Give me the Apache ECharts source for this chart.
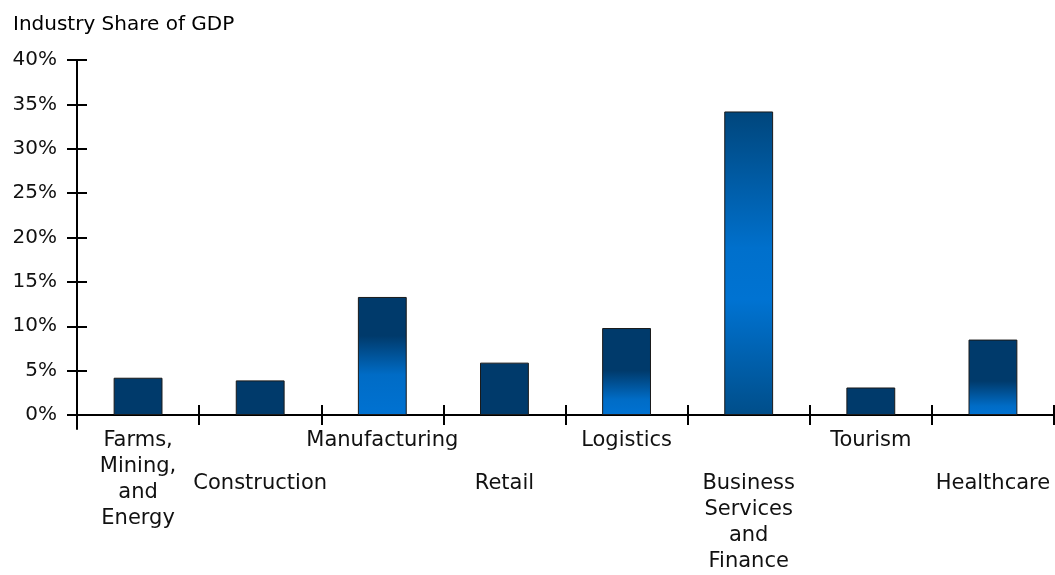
<!DOCTYPE html>
<html>
<head>
<meta charset="utf-8">
<script src="https://cdn.jsdelivr.net/npm/echarts@6/dist/echarts.min.js"></script>
<style>
html,body{margin:0;padding:0;background:#fff;}
#chart{width:1055px;height:575px;}
</style>
</head>
<body>
<div id="chart"></div>
<script>
var categories = [
  "Farms,\nMining,\nand\nEnergy",
  "Construction",
  "Manufacturing",
  "Retail",
  "Logistics",
  "Business\nServices\nand\nFinance",
  "Tourism",
  "Healthcare"
];
var shares = [4.2, 3.9, 13.3, 5.9, 9.8, 34.2, 3.1, 8.5];
var yTicks = [0, 5, 10, 15, 20, 25, 30, 35, 40];

var DARK = '#003a6b';
var BRIGHT = '#0072d2';
var FONT = 'DejaVu Sans';

function barColor(params) {
  var v = params.value;
  if (v < 7) return DARK;
  if (v > 20) {
    return new echarts.graphic.LinearGradient(0, 0, 0, 1, [
      {offset: 0, color: '#00467c'},
      {offset: 0.45, color: '#0070cc'},
      {offset: 0.62, color: '#0073d2'},
      {offset: 1, color: '#004e8a'}
    ]);
  }
  var darkEnd = Math.max(0.2, 0.55 - (v - 8.5) * 0.046);
  var brightStart = Math.min(0.95, darkEnd + 0.33);
  return new echarts.graphic.LinearGradient(0, 0, 0, 1, [
    {offset: 0, color: DARK},
    {offset: darkEnd, color: DARK},
    {offset: brightStart, color: '#006cc6'},
    {offset: 1, color: BRIGHT}
  ]);
}

var chart = echarts.init(document.getElementById('chart'));
var labelStyle = {color: '#111', fontFamily: FONT, fontSize: 21, lineHeight: 26};

chart.setOption({
  animation: false,
  backgroundColor: '#fff',
  title: {
    text: 'Industry Share of GDP',
    left: 8, top: 10,
    textStyle: {color: '#000', fontFamily: FONT, fontSize: 20, fontWeight: 'normal'}
  },
  grid: [
    {left: 77, right: 1, top: 60, bottom: 160},
    {left: 77, right: 1, top: 60, bottom: 146}
  ],
  xAxis: [
    {
      type: 'category', gridIndex: 0, data: categories,
      axisLine: {show: true, lineStyle: {color: '#000', width: 2}},
      axisTick: {show: true, interval: 0, length: 10, lineStyle: {color: '#000', width: 2}},
      axisLabel: Object.assign({margin: 13, interval: function (i) { return i % 2 === 0; }}, labelStyle)
    },
    {
      type: 'category', gridIndex: 0, data: categories, position: 'bottom',
      axisLine: {show: false},
      axisTick: {show: true, interval: 0, inside: true, length: 10, lineStyle: {color: '#000', width: 2}},
      axisLabel: Object.assign({margin: 56, interval: function (i) { return i % 2 === 1; }}, labelStyle)
    },
    {type: 'category', gridIndex: 1, data: categories, show: false}
  ],
  yAxis: [
    {
      type: 'value', gridIndex: 0, position: 'left', min: 0, max: 40, interval: 5,
      axisLine: {show: false},
      splitLine: {show: false},
      axisTick: {show: true, length: 10, lineStyle: {color: '#000', width: 2}},
      axisLabel: {
        margin: 20, color: '#111', fontFamily: FONT, fontSize: 20,
        formatter: function (v) { return yTicks.indexOf(v) >= 0 ? v + '%' : ''; }
      }
    },
    {
      type: 'value', gridIndex: 0, position: 'left', offset: 0, min: 0, max: 40, interval: 5,
      axisLine: {show: false},
      splitLine: {show: false},
      axisTick: {show: true, inside: true, length: 10, lineStyle: {color: '#000', width: 2}},
      axisLabel: {show: false}
    },
    {
      type: 'value', gridIndex: 1, position: 'left', min: 0, max: 1,
      axisLine: {show: true, lineStyle: {color: '#000', width: 2}},
      axisTick: {show: false}, axisLabel: {show: false}, splitLine: {show: false}
    }
  ],
  series: [{
    type: 'bar',
    xAxisIndex: 0, yAxisIndex: 0,
    data: shares,
    barWidth: '40%',
    itemStyle: {color: barColor, borderColor: '#1a1a1a', borderWidth: 1}
  }]
});
</script>
</body>
</html>
